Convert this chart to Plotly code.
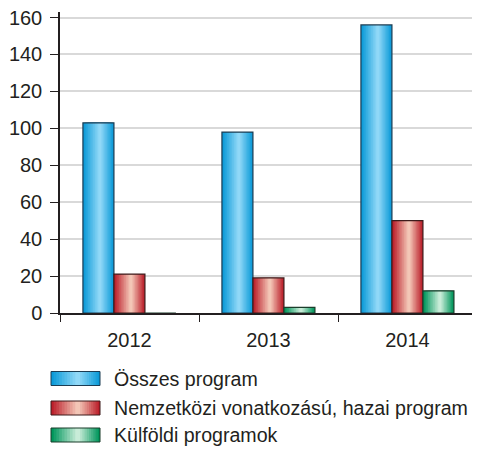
import plotly.graph_objects as go

# ---- data ----
years = ["2012", "2013", "2014"]
osszes = [103, 98, 156]
nemzetkozi = [21, 19, 50]
kulfoldi = [0, 3, 12]
series_names = ["Összes program", "Nemzetközi vonatkozású, hazai program", "Külföldi programok"]
y_ticks = [0, 20, 40, 60, 80, 100, 120, 140, 160]

# ---- style ----
# the page body adds an 8px margin, so the figure is 8px smaller and all positions shifted by 8
OFF = 8
W, H = 480 - OFF, 450 - OFF
ML, MR, MT, MB = 60 - OFF, 3, 12 - OFF, 137
FONT = "Liberation Sans, Arial, Helvetica, sans-serif"
TXT = "#231f20"
styles = [
    ("#0b9ad8", "#90d8f7", "#1c3c52"),
    ("#bb1f2b", "#f3c6b6", "#3d1b1b"),
    ("#00955b", "#c8ecd8", "#1b3d2b"),
]
bar_w = 0.223
offsets = [-0.335, -0.112, 0.111]
N = 10
C = 0.55


def hex2rgb(h):
    h = h.lstrip("#")
    return tuple(int(h[i:i + 2], 16) for i in (0, 2, 4))


def mix(a, b, t):
    ra, rb = hex2rgb(a), hex2rgb(b)
    return "rgb(%d,%d,%d)" % tuple(round(x + (y - x) * t) for x, y in zip(ra, rb))


fig = go.Figure()
for vals, off, (edge, center, line) in zip([osszes, nemzetkozi, kulfoldi], offsets, styles):
    for k in range(N):
        t = k / (N - 1)
        frac = 1 - k / N
        fig.add_bar(x=years, y=vals, offset=off + C * bar_w * (k / N), width=bar_w * frac,
                    marker=dict(color=mix(edge, center, t), line=dict(width=0)),
                    showlegend=False, hoverinfo="skip")
    fig.add_bar(x=years, y=vals, offset=off, width=bar_w,
                marker=dict(color="rgba(0,0,0,0)", line=dict(color=line, width=1.2)),
                showlegend=False)

PW = W - ML - MR
PH = H - MT - MB


def xp(px):
    # px given in reference-window pixels
    return (px - OFF - ML) / PW


def yp(py):
    return (H - MB - (py - OFF)) / PH


shapes = []
annotations = []
leg_rows = [378.5, 408, 435]
for name, (edge, center, line), yc in zip(series_names, styles, leg_rows):
    x0, x1 = 51, 100
    y0, y1 = yc - 7, yc + 7
    wsw = x1 - x0
    for k in range(N):
        t = k / (N - 1)
        frac = 1 - k / N
        a = x0 + C * wsw * (k / N)
        shapes.append(dict(type="rect", xref="paper", yref="paper",
                           x0=xp(a), x1=xp(a + wsw * frac), y0=yp(y1), y1=yp(y0),
                           fillcolor=mix(edge, center, t), line=dict(width=0), layer="above"))
    shapes.append(dict(type="rect", xref="paper", yref="paper",
                       x0=xp(x0), x1=xp(x1), y0=yp(y1), y1=yp(y0),
                       fillcolor="rgba(0,0,0,0)", line=dict(color=line, width=1), layer="above"))
    annotations.append(dict(text=name, xref="paper", yref="paper", x=xp(112), y=yp(yc),
                            xanchor="left", yanchor="middle", showarrow=False,
                            font=dict(size=19.6, color=TXT, family=FONT)))

fig.update_layout(
    width=W, height=H,
    margin=dict(l=ML, r=MR, t=MT, b=MB, autoexpand=False),
    barmode="overlay",
    plot_bgcolor="white", paper_bgcolor="white",
    font=dict(family=FONT, size=20, color=TXT),
    showlegend=False,
    shapes=shapes, annotations=annotations,
    xaxis=dict(type="category", range=[-0.5, 2.5], tickson="boundaries", ticks="outside",
               ticklen=7, tickcolor=TXT, tickwidth=1.2, showline=True, linecolor=TXT, linewidth=1.5,
               showgrid=False, zeroline=False, automargin=False, ticklabelstandoff=8,
               ticklabeloverflow="allow"),
    yaxis=dict(range=[0, 163], tickvals=y_ticks, ticks="outside", ticklen=8, tickcolor=TXT,
               tickwidth=1.2, showline=True, linecolor=TXT, linewidth=1.5,
               showgrid=True, gridcolor="#d9d9d9", gridwidth=1.5, zeroline=False, automargin=False,
               ticklabelstandoff=4, ticklabeloverflow="allow"),
)

fig.write_html("out.html")
